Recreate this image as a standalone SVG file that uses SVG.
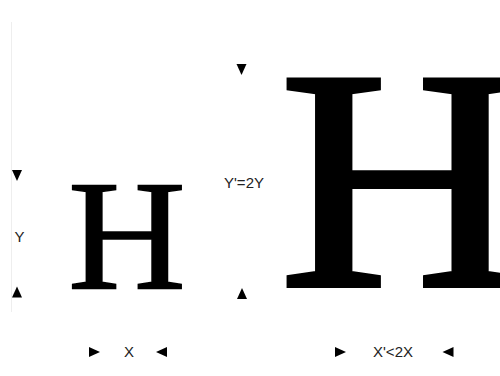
<svg xmlns="http://www.w3.org/2000/svg" xmlns:xlink="http://www.w3.org/1999/xlink" width="500" height="376" viewBox="0 0 500 376">
  <style>
    .glyph { font-family: "Liberation Serif", "Times New Roman", serif; font-weight: normal; fill: #000; stroke: #000; stroke-linejoin: miter; }
    .lbl { font-family: "Liberation Sans", Arial, sans-serif; font-size: 15px; fill: #222; }
    .tri { fill: #000; }
  </style>
  <defs>
    <path id="triDown" d="M-5,-5.5 L5,-5.5 L0,5.5 Z"/>
  </defs>
  <rect width="500" height="376" fill="#fff"/>
  <line x1="11.5" y1="22" x2="11.5" y2="312" stroke="#eeeeee" stroke-width="1"/>

  <g id="small-H">
    <text class="glyph" font-size="157" stroke-width="1.6" transform="translate(68,288) scale(1.04,1)">H</text>
  </g>
  <g id="big-H">
    <text class="glyph" font-size="314" stroke-width="5" transform="translate(279.5,285.5) scale(1.08,1)">H</text>
  </g>

  <g id="label-Y">
    <text class="lbl" x="19.5" y="242" text-anchor="middle">Y</text>
  </g>
  <g id="label-Y2">
    <text class="lbl" x="244" y="188" text-anchor="middle">Y'=2Y</text>
  </g>
  <g id="label-X">
    <text class="lbl" x="129" y="357" text-anchor="middle">X</text>
  </g>
  <g id="label-X2">
    <text class="lbl" x="393" y="357" text-anchor="middle">X'&lt;2X</text>
  </g>

  <g id="connectors">
    <use xlink:href="#triDown" class="tri" transform="translate(17,175.5)"/>
    <use xlink:href="#triDown" class="tri" transform="translate(17,292) rotate(180)"/>
    <use xlink:href="#triDown" class="tri" transform="translate(241.5,69.5)"/>
    <use xlink:href="#triDown" class="tri" transform="translate(242,293.5) rotate(180)"/>
    <use xlink:href="#triDown" class="tri" transform="translate(94.5,352) rotate(-90)"/>
    <use xlink:href="#triDown" class="tri" transform="translate(161.5,352) rotate(90)"/>
    <use xlink:href="#triDown" class="tri" transform="translate(340.5,352) rotate(-90)"/>
    <use xlink:href="#triDown" class="tri" transform="translate(448,352) rotate(90)"/>
  </g>
</svg>
